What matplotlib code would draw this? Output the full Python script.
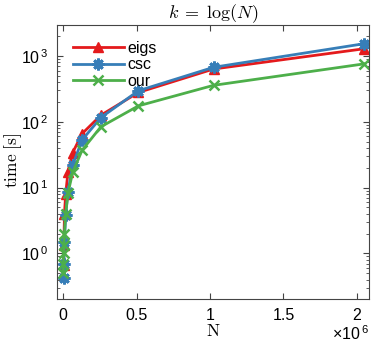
"""
Timing comparison eigs / csc / our for k = log(N)
"""
import numpy as np
import matplotlib
matplotlib.use("Agg")
import matplotlib.pyplot as plt
from matplotlib.ticker import FuncFormatter, LogLocator, NullFormatter

plt.rcParams['font.family'] = ['Liberation Sans', 'DejaVu Sans']
plt.rcParams['font.size'] = 9

# data
N_eigs = [2000, 4000, 8000, 16000, 32000, 64000, 128000, 256000, 512000, 1024000, 2048000]
t_eigs = [0.66, 1.34, 4.0, 7.9, 17.4, 34, 66, 126, 280, 636, 1290]

N_csc = [2000, 4000, 8000, 16000, 32000, 64000, 128000, 256000, 512000, 1024000, 2048000]
t_csc = [0.42, 0.69, 1.5, 3.8, 8.6, 22, 53, 116, 297, 675, 1540]

N_our = [500, 1000, 2000, 4000, 8000, 16000, 32000, 64000, 128000, 256000, 512000, 1024000, 2048000]
t_our = [0.51, 0.70, 1.0, 1.34, 2.0, 4.0, 8.3, 17, 37, 84, 175, 359, 760]

red = '#e41a1c'
blue = '#377eb8'
green = '#4daf4a'

fig = plt.figure(figsize=(3.74, 3.43), dpi=100)
ax = fig.add_axes([0.1516, 0.1274, 0.835, 0.8006])

ax.plot(N_eigs, t_eigs, color=red, marker='^', markersize=6.5, linewidth=2, label='eigs')
ax.plot(N_csc, t_csc, color=blue, marker=(8, 2, 0), markersize=8.5, markeredgewidth=2,
        linewidth=2, label='csc')
ax.plot(N_our, t_our, color=green, marker='x', markersize=6.5, markeredgewidth=1.8,
        linewidth=2, label='our')

ax.set_yscale('log')
ax.set_ylim(0.2, 3000)
ax.set_xlim(-0.045e6, 2.083e6)
ax.set_xticks([0, 0.5e6, 1e6, 1.5e6, 2e6])
ax.xaxis.set_major_formatter(FuncFormatter(lambda v, p: '%g' % (v / 1e6)))
ax.yaxis.set_major_locator(LogLocator(base=10, numticks=10))
ax.yaxis.set_minor_locator(LogLocator(base=10, subs=np.arange(2, 10), numticks=10))
ax.yaxis.set_minor_formatter(NullFormatter())
ax.yaxis.set_major_formatter(FuncFormatter(lambda v, p: r'$\mathregular{10^{\,%d}}$' % round(np.log10(v))))

ax.tick_params(which='both', direction='in', top=True, right=True, labelsize=11.5,
               color='#444444')
ax.tick_params(which='major', length=4, pad=6)
ax.tick_params(which='minor', length=2)
for s in ax.spines.values():
    s.set_color('#444444')
    s.set_linewidth(0.8)

ax.text(1.0, -0.09, r'$\mathregular{\times 10^{\,6}}$', transform=ax.transAxes,
        ha='right', va='top', fontsize=11.5)
ax.set_xlabel('$\\mathrm{N}$', math_fontfamily='cm', fontsize=12.5, labelpad=0)
ax.set_ylabel('$\\mathrm{time\\ [s]}$', math_fontfamily='cm', fontsize=12.5)
ax.yaxis.label.set_va('center')
ax.yaxis.set_label_coords(-0.14, 0.505)
ax.set_title('$k\\;=\\;\\log(N)$', math_fontfamily='cm', fontsize=13, pad=4)

ax.legend(loc='upper left', frameon=False, handlelength=3.2, handletextpad=0.2,
          labelspacing=0.1, fontsize=11.5, borderaxespad=0.6)

fig.savefig('out.png', dpi=100)
